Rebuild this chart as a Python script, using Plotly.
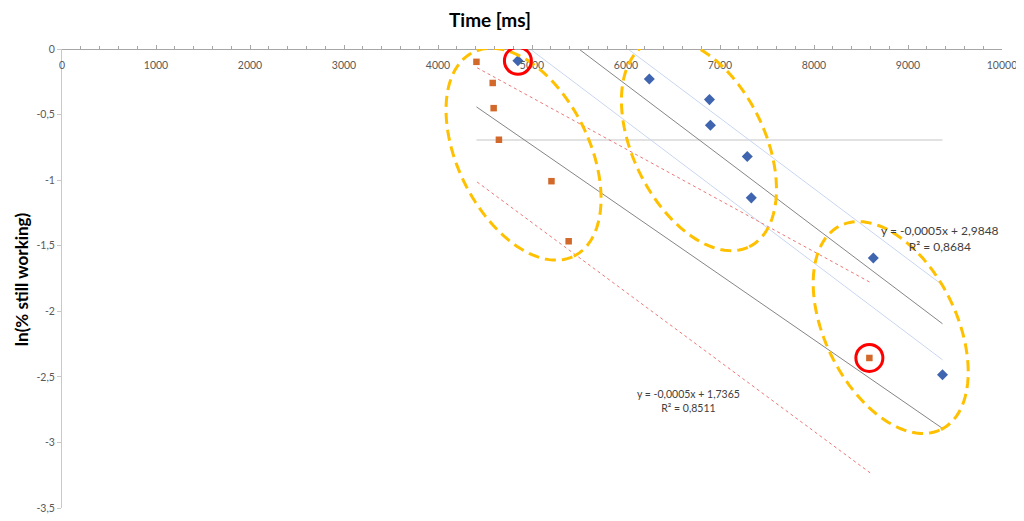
import numpy as np
import plotly.graph_objects as go

# ---------------- data ----------------
blue_x = [4850, 6248, 6888, 6898, 7290, 7333, 8631, 9367]
blue_y = [-0.090, -0.229, -0.386, -0.582, -0.820, -1.135, -1.594, -2.484]

orange_x = [4409, 4582, 4592, 4648, 5207, 5390, 8589]
orange_y = [-0.098, -0.259, -0.451, -0.692, -1.008, -1.466, -2.356]

# band lines around the blue trend (light blue) and orange trend (red dotted)
blue_band_x = [4850, 9367]
blue_band_upper = [0.63, -1.80]
blue_band_lower = [0.07, -2.37]
orange_band_x = [4416, 8612]
orange_band_upper = [-0.143, -1.785]
orange_band_lower = [-1.014, -3.240]

half_level = -0.693  # ln(0.5)

x_tickvals = [0, 1000, 2000, 3000, 4000, 5000, 6000, 7000, 8000, 9000, 10000]
x_ticktext = ["0", "1000", "2000", "3000", "4000", "5000", "6000", "7000", "8000", "9000", "10000"]
y_tickvals = [0, -0.5, -1, -1.5, -2, -2.5, -3, -3.5]
y_ticktext = ["0", "-0,5", "-1", "-1,5", "-2", "-2,5", "-3", "-3,5"]

eq_blue = "y = -0,0005x + 2,9848<br>R² = 0,8684"
eq_orange = "y = -0,0005x + 1,7365<br>R² = 0,8511"

# ---------------- layout geometry ----------------
OFF = 8  # page body margin
PAGE_W, PAGE_H = 1024, 521
W, H = PAGE_W - OFF, PAGE_H - OFF
PL, PT, PW, PH = 62, 49, 944, 465      # plot area in page pixels
ML, MT = PL - OFF, PT - OFF
MR = W - ML - PW
MB = H - MT - PH
X_RANGE = [0, 10000]
Y_RANGE = [-3.5, 0]
px_x = PW / (X_RANGE[1] - X_RANGE[0])
px_y = PH / (Y_RANGE[1] - Y_RANGE[0])

FONT = "Lato"

fig = go.Figure()

# trend lines (least squares, as the spreadsheet does)
kb, cb = np.polyfit(blue_x, blue_y, 1)
ko, co = np.polyfit(orange_x, orange_y, 1)
tx_b = np.array([min(blue_x), max(blue_x)])
tx_o = np.array([min(orange_x), max(blue_x)])

fig.add_trace(go.Scatter(x=[min(orange_x), max(blue_x)], y=[half_level, half_level], mode="lines",
                         line=dict(color="#E2E2E2", width=2), hoverinfo="skip"))
fig.add_trace(go.Scatter(x=blue_band_x, y=blue_band_upper, mode="lines",
                         line=dict(color="#C9D6F0", width=1), hoverinfo="skip"))
fig.add_trace(go.Scatter(x=blue_band_x, y=blue_band_lower, mode="lines",
                         line=dict(color="#C9D6F0", width=1), hoverinfo="skip"))
fig.add_trace(go.Scatter(x=orange_band_x, y=orange_band_upper, mode="lines",
                         line=dict(color="#EE7777", width=1, dash="dot"), hoverinfo="skip"))
fig.add_trace(go.Scatter(x=orange_band_x, y=orange_band_lower, mode="lines",
                         line=dict(color="#EE7777", width=1, dash="dot"), hoverinfo="skip"))
fig.add_trace(go.Scatter(x=tx_b, y=kb * tx_b + cb, mode="lines",
                         line=dict(color="#858585", width=1), hoverinfo="skip"))
fig.add_trace(go.Scatter(x=tx_o, y=ko * tx_o + co, mode="lines",
                         line=dict(color="#858585", width=1), hoverinfo="skip"))

fig.add_trace(go.Scatter(x=blue_x, y=blue_y, mode="markers",
                         marker=dict(symbol="diamond", size=8.5, color="#3F65B0"), cliponaxis=False))
fig.add_trace(go.Scatter(x=orange_x, y=orange_y, mode="markers",
                         marker=dict(symbol="square", size=6.5, color="#D2692A"), cliponaxis=False))

# ---------------- highlight shapes ----------------
def ellipse_path(cx, cy, a_px, b_px, theta_deg, n=120):
    th = np.radians(theta_deg)
    ux, uy = np.sin(th), np.cos(th)      # major axis (pixel space, y down)
    vx, vy = np.cos(th), -np.sin(th)     # minor axis
    t = np.linspace(0, 2 * np.pi, n)
    dpx = a_px * np.cos(t) * ux + b_px * np.sin(t) * vx
    dpy = a_px * np.cos(t) * uy + b_px * np.sin(t) * vy
    xs = cx + dpx / px_x
    ys = cy - dpy / px_y
    pts = ["{:.2f},{:.5f}".format(x, y) for x, y in zip(xs, ys)]
    return "M " + " L ".join(pts) + " Z"

ellipse_centers = [(4910, -0.802), (6776, -0.730), (8816, -2.124)]
for cx, cy in ellipse_centers:
    fig.add_shape(type="path", path=ellipse_path(cx, cy, 115, 66, 26), xref="x", yref="y",
                  line=dict(color="#FFC000", width=3, dash="11px,6px"), layer="above")

for (hx, hy) in [(blue_x[0], blue_y[0]), (orange_x[-1], orange_y[-1])]:
    fig.add_shape(type="circle", xref="x", yref="y", xsizemode="pixel", ysizemode="pixel",
                  xanchor=hx, yanchor=hy, x0=-13.5, x1=13.5, y0=-13.5, y1=13.5,
                  line=dict(color="#FF0000", width=3), layer="above")

# ---------------- text ----------------
fig.add_annotation(x=9340, y=-1.444, xref="x", yref="y", text=eq_blue, showarrow=False,
                   xanchor="center", yanchor="middle",
                   font=dict(family=FONT, size=12, color="#404040"), align="center")
fig.add_annotation(x=6665, y=-2.682, xref="x", yref="y", text=eq_orange, showarrow=False,
                   xanchor="center", yanchor="middle",
                   font=dict(family=FONT, size=10.5, color="#404040"), align="center")
fig.add_annotation(x=(491.7 - PL) / PW, y=1, xref="paper", yref="paper", yshift=PT - 19,
                   xanchor="center", yanchor="middle",
                   text="<b>Time [ms]</b>", showarrow=False,
                   font=dict(family=FONT, size=19, color="#000000"))
fig.add_annotation(x=(22 - PL) / PW, y=1 - (282 - PT) / PH, xref="paper", yref="paper",
                   xanchor="center", yanchor="middle",
                   text="<b>ln(% still working)</b>", showarrow=False, textangle=-90,
                   font=dict(family=FONT, size=17, color="#000000"))

fig.update_layout(
    width=W, height=H, margin=dict(l=ML, r=MR, t=MT, b=MB, pad=0),
    paper_bgcolor="white", plot_bgcolor="white", showlegend=False,
    font=dict(family=FONT, size=10, color="#595959"),
    xaxis=dict(range=X_RANGE, side="bottom", anchor="free", position=1,
               showgrid=False, zeroline=False,
               showline=True, linecolor="#A6A6A6", linewidth=1,
               ticks="inside", ticklen=4, tickcolor="#A6A6A6",
               tickmode="array", tickvals=x_tickvals, ticktext=x_ticktext,
               ticklabelstandoff=6,
               tickfont=dict(family=FONT, size=10.5, color="#595959")),
    yaxis=dict(range=Y_RANGE, domain=[0, 1], showgrid=False, zeroline=False,
               showline=True, linecolor="#C8C8C8", linewidth=1,
               ticks="outside", ticklen=4, tickcolor="#C8C8C8",
               tickmode="array", tickvals=y_tickvals, ticktext=y_ticktext,
               tickfont=dict(family=FONT, size=10.5, color="#595959")),
)
fig.update_xaxes(minor=dict(tickmode="linear", tick0=0, dtick=200, ticks="inside",
                            ticklen=3, tickcolor="#A6A6A6", showgrid=False))

fig.write_html("out.html")
